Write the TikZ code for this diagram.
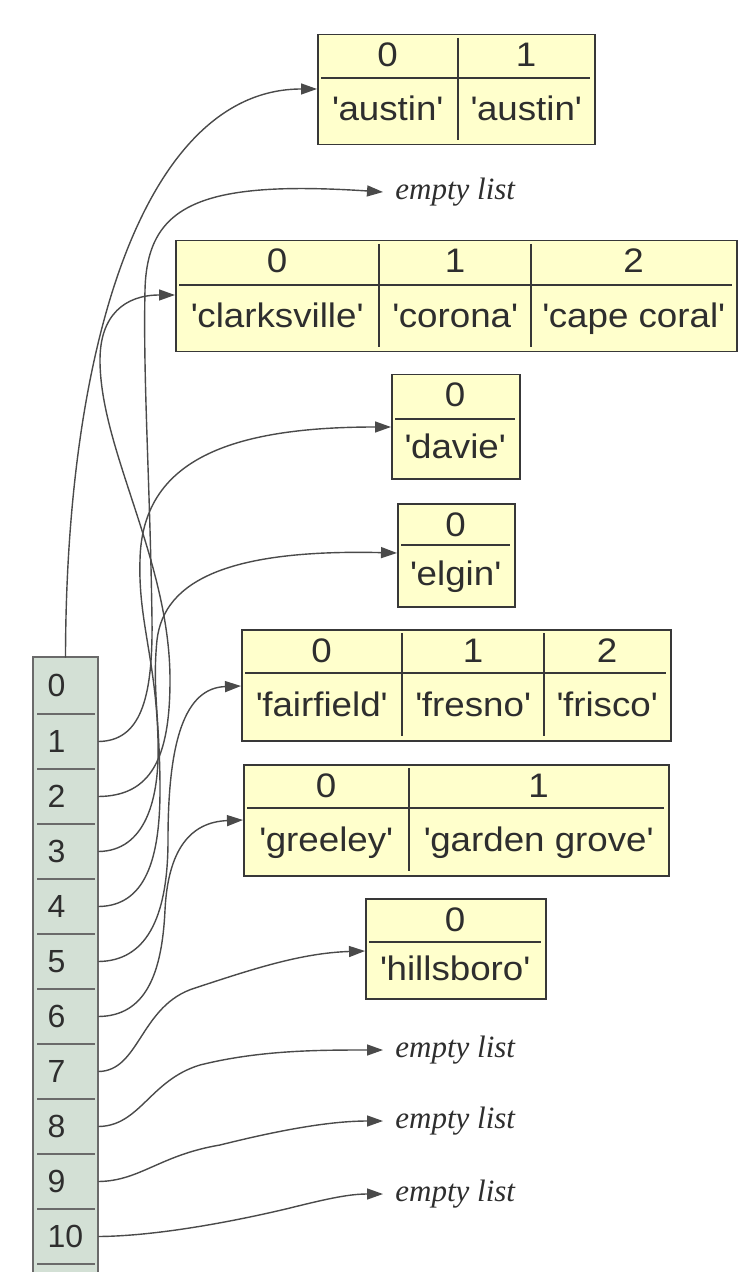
\documentclass[tikz,border=0pt]{standalone}
\usepackage{fontspec}
\setmainfont{Liberation Serif}
\newfontfamily\cellfont{Liberation Sans}
\newfontfamily\listfont[FakeStretch=1.08]{Liberation Sans}
\usetikzlibrary{arrows.meta}

\definecolor{listyellow}{HTML}{FFFFCC}
\definecolor{framegray}{HTML}{383838}
\definecolor{slotgreen}{HTML}{D3E0D5}
\definecolor{slotgray}{HTML}{6A6A6A}
\definecolor{linkgray}{HTML}{4A4A4A}
\definecolor{textgray}{HTML}{2E2E2E}

\newcommand{\qs}[1]{\textquotesingle#1\textquotesingle}
% name, left, top, right, bottom, divider
\newcommand{\listbox}[6]{%
  \node[listframe, anchor=north west, minimum width={(#4-#2)/2*1pt},
        minimum height={(#5-#3)/2*1pt}] (#1) at (#2,#3) {};
  \draw[rule] (#2+4,#6) -- (#4-4,#6);
}

\tikzset{
  listframe/.style={draw=framegray, fill=listyellow, line width=0.75pt, inner sep=0pt},
  rule/.style={draw=framegray, line width=0.75pt},
  idx/.style={font=\listfont\fontsize{17}{20}\selectfont, text=textgray, anchor=base, inner sep=0pt},
  val/.style={idx},
  slot/.style={minimum width=32.5pt, minimum height=27.5pt, inner sep=0pt,
               font=\cellfont\fontsize{16}{19}\selectfont, text=textgray},
  slotline/.style={draw=slotgray, line width=0.85pt},
  nothing/.style={font=\itshape\fontsize{15.5}{18}\selectfont, text=textgray, anchor=west,
                  inner xsep=6pt, inner ysep=0pt},
  link/.style={draw=linkgray, line width=0.7pt, -{Triangle[length=8pt,width=5.5pt]}},
}

\begin{document}
\begin{tikzpicture}[x=0.5pt, y=-0.5pt]
  \useasboundingbox (0,0) rectangle (750,1272);
  \clip (0,0) rectangle (750,1272);

  % the table
  \fill[slotgreen] (33,657) rectangle (98,1300);
  \draw[slotline] (33,1300) -- (33,657) -- (98,657) -- (98,1300);
  \foreach \k in {0,...,10}
    \draw[slotline] (37,{714+55*\k}) -- (95,{714+55*\k});
  \node[slot] (c0) at (65.5,685.5) {\makebox[18pt][l]{0}};
  \foreach \k in {1,...,10}
    \node[slot] (c\k) at (65.5,{741.5+55*(\k-1)}) {\makebox[18pt][l]{\k}};

  % the lists
  \listbox{austin}{317}{34}{594}{144}{78}
  \draw[rule] (458,38) -- (458,140);
  \foreach \i/\x/\w in {0/387.5/austin, 1/526/austin} {
    \node[idx] (austin-h\i) at (\x,67) {\i};
    \node[val] (austin-v\i) at (\x,121) {\qs{\w}};
  }

  \listbox{clark}{175}{240}{736}{351}{285}
  \foreach \v in {379,531} \draw[rule] (\v,244) -- (\v,347);
  \foreach \i/\x/\w in {0/277/clarksville, 1/455/corona, 2/633.5/cape coral} {
    \node[idx] (clark-h\i) at (\x,273) {\i};
    \node[val] (clark-v\i) at (\x,328) {\qs{\w}};
  }

  \listbox{davie}{391}{374}{519}{478}{419}
  \node[idx] (davie-h0) at (455,407) {0};
  \node[val] (davie-v0) at (455,458.5) {\qs{davie}};

  \listbox{elgin}{397}{503}{514}{606}{545}
  \node[idx] (elgin-h0) at (455.5,536) {0};
  \node[val] (elgin-v0) at (455.5,585.5) {\qs{elgin}};

  \listbox{fair}{241}{629}{670}{740}{673}
  \foreach \v in {402,544} \draw[rule] (\v,633) -- (\v,736);
  \foreach \i/\x/\w in {0/321.5/fairfield, 1/473/fresno, 2/607/frisco} {
    \node[idx] (fair-h\i) at (\x,662) {\i};
    \node[val] (fair-v\i) at (\x,716.5) {\qs{\w}};
  }

  \listbox{greel}{243}{764}{668}{875}{808}
  \draw[rule] (409,768) -- (409,871);
  \foreach \i/\x/\w in {0/326/greeley, 1/538.5/garden grove} {
    \node[idx] (greel-h\i) at (\x,797) {\i};
    \node[val] (greel-v\i) at (\x,851.5) {\qs{\w}};
  }

  \listbox{hills}{365}{898}{545}{998}{942}
  \node[idx] (hills-h0) at (455,931) {0};
  \node[val] (hills-v0) at (455,980) {\qs{hillsboro}};

  \node[nothing] (e1) at (383,192) {empty list};
  \node[nothing] (e8) at (383,1050) {empty list};
  \node[nothing] (e9) at (383,1121) {empty list};
  \node[nothing] (e10) at (383,1194) {empty list};

  % chains
  \draw[link] (c0.north) .. controls (66,330) and (150,89) .. ([yshift=-27.5pt]austin.north west);
  \draw[link] (c1.east) .. controls (140,741) and (153,700) .. (152,620)
    .. controls (150,480) and (143,380) .. (145,290)
    .. controls (147,205) and (200,180) .. (e1.west);
  \draw[link] (c2.east) .. controls (150,796) and (170,760) .. (170,680)
    .. controls (170,560) and (100,450) .. (100,360)
    .. controls (100,315) and (125,295) .. ([yshift=-27.5pt]clark.north west);
  \draw[link] (c3.east) .. controls (145,851) and (160,800) .. (158,740)
    .. controls (156,660) and (138,620) .. (140,560)
    .. controls (142,460) and (230,427) .. ([yshift=-26.5pt]davie.north west);
  \draw[link] (c4.east) .. controls (145,906) and (160,860) .. (160,790)
    .. controls (160,720) and (152,690) .. (157,640)
    .. controls (164,580) and (230,549) .. ([yshift=-25pt]elgin.north west);
  \draw[link] (c5.east) .. controls (145,961) and (168,920) .. (168,840)
    .. controls (168,740) and (185,688) .. ([yshift=-28.5pt]fair.north west);
  \draw[link] (c6.east) .. controls (145,1016) and (162,975) .. (165,910)
    .. controls (168,850) and (190,822) .. ([yshift=-28pt]greel.north west);
  \draw[link] (c7.east) .. controls (140,1071) and (140,1005) .. (195,988)
    .. controls (250,970) and (300,953) .. ([yshift=-26.5pt]hills.north west);
  \draw[link] (c8.east) .. controls (140,1126) and (150,1080) .. (200,1065)
    .. controls (260,1050) and (320,1050) .. (e8.west);
  \draw[link] (c9.east) .. controls (140,1181) and (160,1155) .. (220,1145)
    .. controls (280,1130) and (330,1121) .. (e9.west);
  \draw[link] (c10.east) .. controls (160,1236) and (240,1220) .. (290,1208)
    .. controls (330,1198) and (350,1194) .. (e10.west);
\end{tikzpicture}
\end{document}
